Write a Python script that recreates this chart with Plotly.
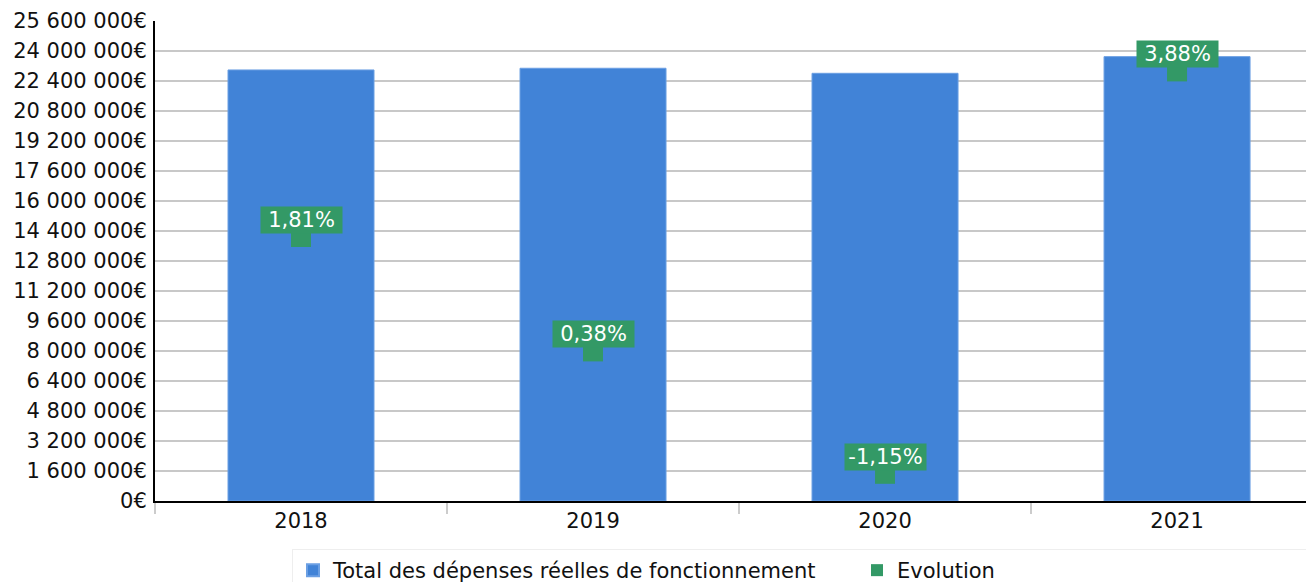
import plotly.graph_objects as go

# Données
annees = ['2018', '2019', '2020', '2021']
depenses = [22990000, 23080000, 22810000, 23700000]
evolution = [1.81, 0.38, -1.15, 3.88]
evolution_txt = ['1,81%', '0,38%', '-1,15%', '3,88%']

tick_vals = [i * 1600000 for i in range(17)]
tick_txt = ['0€', '1 600 000€', '3 200 000€', '4 800 000€', '6 400 000€',
            '8 000 000€', '9 600 000€', '11 200 000€', '12 800 000€',
            '14 400 000€', '16 000 000€', '17 600 000€', '19 200 000€',
            '20 800 000€', '22 400 000€', '24 000 000€', '25 600 000€']

bleu = '#4183d7'
vert = '#339966'
police = 'DejaVu Sans'

fig = go.Figure()

fig.add_trace(go.Bar(
    x=annees, y=depenses,
    name='Total des dépenses réelles de fonctionnement',
    marker=dict(color=bleu, line=dict(color='#6b9fe3', width=1)),
    width=0.5))

fig.add_trace(go.Scatter(
    x=annees, y=evolution, yaxis='y2',
    name='Evolution', mode='markers',
    marker=dict(symbol='square', size=20, color=vert)))

# Etiquettes des evolutions (x = index de la categorie, sinon '2018' est lu comme un nombre)
annotations = []
for i, (v, t) in enumerate(zip(evolution, evolution_txt)):
    annotations.append(dict(
        x=i, y=v, xref='x', yref='y2', text=t,
        showarrow=False, yshift=17, width=79,
        bgcolor=vert, borderpad=1,
        font=dict(family=police, size=21, color='white')))

# la page ajoute une marge de 8px en haut et a gauche de la figure
fig.update_layout(
    width=1306, height=574,
    margin=dict(l=147, r=0, t=13, b=81, autoexpand=False),
    paper_bgcolor='white', plot_bgcolor='white',
    font=dict(family=police, size=21, color='#111'),
    bargap=0.5,
    showlegend=True,
    legend=dict(
        orientation='h', xref='container', x=(292 - 8) / 1306, xanchor='left',
        yref='container', y=(574 - 541) / 574, yanchor='top',
        bordercolor='#eeeeee', borderwidth=1,
        font=dict(family=police, size=21, color='#111'),
        entrywidth=519, itemsizing='constant'),
    annotations=annotations,
    xaxis=dict(
        type='category', range=[-0.5, 3.469],
        showline=True, linecolor='black', linewidth=2,
        ticks='outside', tickson='boundaries', ticklen=11,
        tickcolor='#cccccc', tickwidth=2,
        showgrid=False,
        tickfont=dict(family=police, size=21, color='#111')),
    yaxis=dict(
        range=[0, 25600000],
        tickvals=tick_vals, ticktext=tick_txt,
        showline=True, linecolor='black', linewidth=2,
        showgrid=True, gridcolor='#c8c8c8', gridwidth=2,
        zeroline=False, ticklabelstandoff=2,
        tickfont=dict(family=police, size=21, color='#111')),
    yaxis2=dict(
        overlaying='y', side='right', range=[-1.49, 4.51],
        showgrid=False, zeroline=False, showline=False,
        showticklabels=False, ticks=''),
)

fig.write_html("out.html")
